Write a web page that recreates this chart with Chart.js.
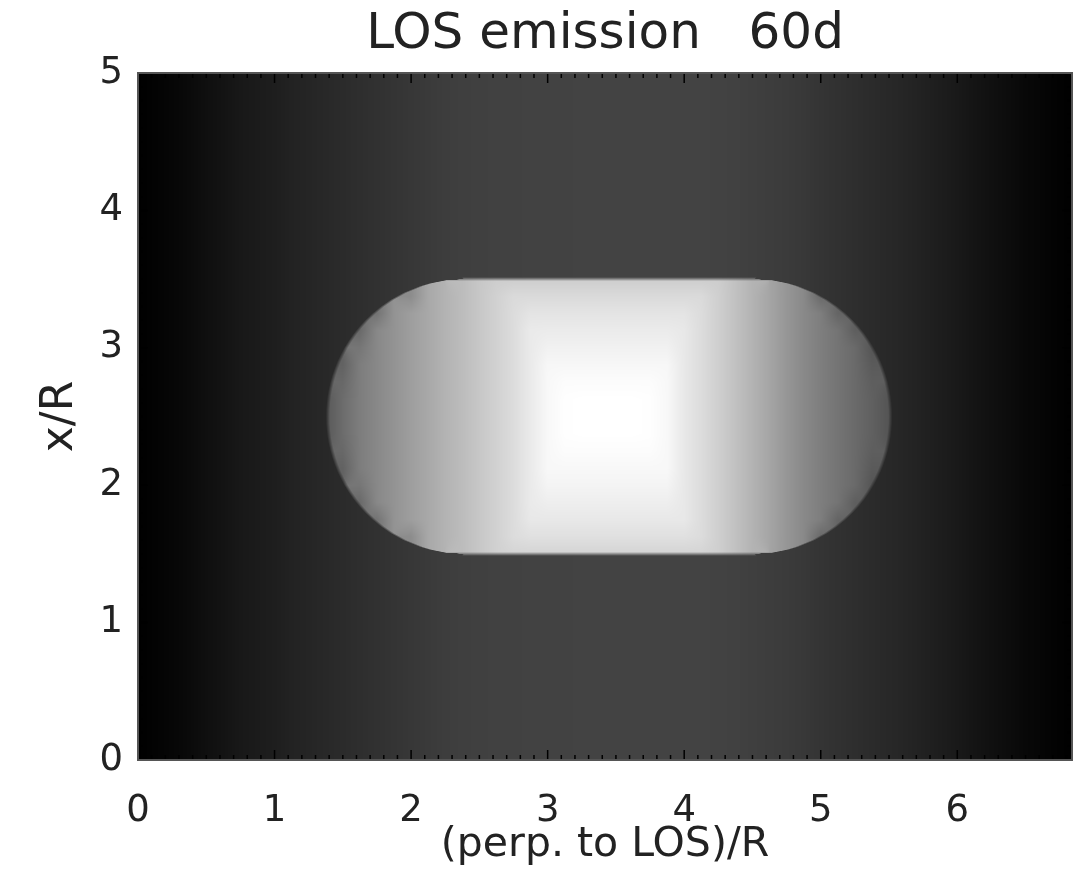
<!DOCTYPE html>
<html>
<head>
<meta charset="utf-8">
<script src="https://cdn.jsdelivr.net/npm/chart.js@4.4.0/dist/chart.umd.min.js"></script>
<style>
  html, body { margin: 0; padding: 0; background: #fff; }
</style>
</head>
<body>
<canvas id="losChart" width="1078" height="889"></canvas>
<script>
// background emission (grey level 0-255), sampled along (perp. to LOS)/R
const bgX = [0, 0.125, 0.25, 0.375, 0.5, 0.625, 0.75, 0.875, 1, 1.125, 1.25, 1.375, 1.5, 1.625,
  1.75, 1.875, 2, 2.125, 2.25, 2.375, 2.5, 2.625, 2.75, 2.875, 3, 3.125, 3.25, 3.375, 3.5,
  3.625, 3.75, 3.875, 4, 4.125, 4.25, 4.375, 4.5, 4.625, 4.75, 4.875, 5, 5.125, 5.25, 5.375,
  5.5, 5.625, 5.75, 5.875, 6, 6.125, 6.25, 6.375, 6.5, 6.625, 6.75, 6.875];
const bgLevel = [0, 3, 6, 10, 15, 19, 24, 27, 30, 34, 37, 40, 43, 46,
  49, 52, 55, 58, 61, 63, 64, 65, 65, 66, 66, 66, 67, 67, 67,
  67, 67, 67, 67, 67, 66, 65, 63, 61, 59, 56, 52, 49, 46, 43,
  40, 37, 33, 29, 25, 20, 16, 12, 8, 5, 2, 0];

// outline of the bright capsule: left / right edge (x/R) for each height y/R
const edgeY = [3.5, 3.49, 3.47, 3.45, 3.4, 3.35, 3.3, 3.25, 3.2, 3.15, 3.1, 3.05, 3, 2.95, 2.9,
  2.85, 2.8, 2.75, 2.7, 2.65, 2.6, 2.55, 2.5, 2.45, 2.4, 2.35, 2.3, 2.25, 2.2, 2.15, 2.1, 2.05,
  2, 1.95, 1.9, 1.85, 1.8, 1.75, 1.7, 1.65, 1.6, 1.55, 1.53, 1.51, 1.5];
const edgeLeft = [2.39, 2.249, 2.147, 2.078, 1.954, 1.863, 1.79, 1.729, 1.676, 1.63, 1.59, 1.555,
  1.524, 1.497, 1.473, 1.453, 1.436, 1.422, 1.41, 1.401, 1.395, 1.391, 1.39, 1.391, 1.395, 1.401,
  1.41, 1.422, 1.436, 1.453, 1.473, 1.497, 1.524, 1.555, 1.59, 1.63, 1.676, 1.729, 1.79, 1.863,
  1.954, 2.078, 2.147, 2.249, 2.39];
const edgeRight = [4.51, 4.651, 4.753, 4.822, 4.946, 5.037, 5.11, 5.171, 5.224, 5.27, 5.31, 5.345,
  5.376, 5.403, 5.427, 5.447, 5.464, 5.478, 5.49, 5.499, 5.505, 5.509, 5.51, 5.509, 5.505, 5.499,
  5.49, 5.478, 5.464, 5.447, 5.427, 5.403, 5.376, 5.345, 5.31, 5.27, 5.224, 5.171, 5.11, 5.037,
  4.946, 4.822, 4.753, 4.651, 4.51];

// emission inside the capsule (grey level), null = outside the capsule
const capX = [1.25, 1.375, 1.5, 1.625, 1.75, 1.875, 2, 2.125, 2.25, 2.375, 2.5, 2.625, 2.75,
  2.875, 3, 3.125, 3.25, 3.375, 3.5, 3.625, 3.75, 3.875, 4, 4.125, 4.25, 4.375, 4.5, 4.625,
  4.75, 4.875, 5, 5.125, 5.25, 5.375, 5.5, 5.625];
const capY = [3.5, 3.375, 3.25, 3.125, 3, 2.875, 2.75, 2.625, 2.5, 2.375, 2.25, 2.125, 2,
  1.875, 1.75, 1.625, 1.5];
const _ = null;
const capLevel = [
  [_,_,_,_,_,_,_,_,_,188,199,205,205,205,205,205,205,205,205,205,205,205,205,205,205,193,179,_,_,_,_,_,_,_,_,_],
  [_,_,_,_,_,_,140,168,179,188,199,209,218,218,218,218,218,218,218,218,218,218,218,218,207,193,179,165,150,137,105,_,_,_,_,_],
  [_,_,_,_,115,147,158,168,179,188,199,209,220,228,228,228,228,228,228,228,228,228,228,220,207,193,179,165,150,137,126,100,_,_,_,_],
  [_,_,_,105,136,147,158,168,179,188,199,209,220,234,235,235,235,235,235,235,235,235,232,220,207,193,179,165,150,137,126,116,94,_,_,_],
  [_,_,_,118,136,147,158,168,179,188,199,209,220,234,241,241,241,241,241,241,241,241,232,220,207,193,179,165,150,137,126,116,106,85,_,_],
  [_,_,98,125,136,147,158,168,179,188,199,209,220,234,247,247,247,247,247,247,247,247,232,220,207,193,179,165,150,137,126,116,106,90,_,_],
  [_,_,104,125,136,147,158,168,179,188,199,209,220,234,248,252,252,252,252,252,252,248,232,220,207,193,179,165,150,137,126,116,106,94,_,_],
  [_,88,108,125,136,147,158,168,179,188,199,209,220,234,248,254,255,255,255,255,254,248,232,220,207,193,179,165,150,137,126,116,106,96,84,_],
  [_,88,108,125,136,147,158,168,179,188,199,209,220,234,248,254,255,255,255,255,254,248,232,220,207,193,179,165,150,137,126,116,106,96,84,_],
  [_,88,108,125,136,147,158,168,179,188,199,209,220,234,248,254,255,255,255,255,254,248,232,220,207,193,179,165,150,137,126,116,106,96,84,_],
  [_,_,104,125,136,147,158,168,179,188,199,209,220,234,248,252,252,252,252,252,252,248,232,220,207,193,179,165,150,137,126,116,106,94,_,_],
  [_,_,98,125,136,147,158,168,179,188,199,209,220,234,248,248,248,248,248,248,248,248,232,220,207,193,179,165,150,137,126,116,106,90,_,_],
  [_,_,_,118,136,147,158,168,179,188,199,209,220,234,244,244,244,244,244,244,244,244,232,220,207,193,179,165,150,137,126,116,106,85,_,_],
  [_,_,_,105,136,147,158,168,179,188,199,209,220,234,238,238,238,238,238,238,238,238,232,220,207,193,179,165,150,137,126,116,94,_,_,_],
  [_,_,_,_,115,147,158,168,179,188,199,209,220,232,232,232,232,232,232,232,232,232,232,220,207,193,179,165,150,137,126,100,_,_,_,_],
  [_,_,_,_,_,_,140,168,179,188,199,209,220,224,224,224,224,224,224,224,224,224,224,220,207,193,179,165,150,137,105,_,_,_,_,_],
  [_,_,_,_,_,_,_,_,_,188,199,209,212,212,212,212,212,212,212,212,212,212,212,212,207,193,179,_,_,_,_,_,_,_,_,_]
];

const font = 'DejaVu Sans';
const ink = '#222';

// interval of a monotonic node list that holds v
function bracket(nodes, v) {
  for (let k = 0; k < nodes.length - 1; k++) {
    const n0 = nodes[k], n1 = nodes[k + 1];
    if ((v - n0) * (v - n1) <= 0) return { k: k, t: n1 === n0 ? 0 : (v - n0) / (n1 - n0) };
  }
  return null;
}

// same, but a value just past either end sticks to that end
function bracketClamped(nodes, v) {
  const b = bracket(nodes, v);
  if (b) return b;
  const first = nodes[0], last = nodes[nodes.length - 1];
  return Math.abs(v - first) < Math.abs(v - last) ? { k: 0, t: 0 } : { k: nodes.length - 2, t: 1 };
}

function profileAt(xs, vs, v) {
  const b = bracket(xs, v);
  if (!b) return v < xs[0] ? vs[0] : vs[vs.length - 1];
  return vs[b.k] + b.t * (vs[b.k + 1] - vs[b.k]);
}

// bilinear blend of the capsule grid, skipping nodes outside the capsule
function capsuleAt(rb, cb) {
  const r0 = capLevel[rb.k], r1 = capLevel[rb.k + 1];
  const nodes = [
    [r0[cb.k], (1 - rb.t) * (1 - cb.t)], [r0[cb.k + 1], (1 - rb.t) * cb.t],
    [r1[cb.k], rb.t * (1 - cb.t)], [r1[cb.k + 1], rb.t * cb.t]
  ];
  let sum = 0, wsum = 0;
  nodes.forEach(function(n) {
    if (n[0] !== null) { sum += n[0] * (n[1] + 1e-3); wsum += n[1] + 1e-3; }
  });
  return wsum > 0 ? sum / wsum : null;
}

// paints the emission map into the chart area, pixel by pixel, via the scales
const losImage = {
  id: 'losImage',
  beforeDatasetsDraw(chart) {
    const { ctx, chartArea: a, scales } = chart;
    const sx = scales.x, sy = scales.y;
    const w = Math.round(a.width), h = Math.round(a.height);
    const pxX = Math.abs(sx.getPixelForValue(1) - sx.getPixelForValue(0));
    const pxY = Math.abs(sy.getPixelForValue(1) - sy.getPixelForValue(0));
    const soft = 4;
    const off = document.createElement('canvas');
    off.width = w;
    off.height = h;
    const octx = off.getContext('2d');
    const img = octx.createImageData(w, h);
    const colX = [], colBg = [], colCap = [];
    for (let i = 0; i < w; i++) {
      const xv = sx.getValueForPixel(a.left + i + 0.5);
      colX.push(xv);
      colBg.push(profileAt(bgX, bgLevel, xv));
      colCap.push(bracket(capX, xv));
    }
    const top = edgeY[0], bottom = edgeY[edgeY.length - 1];
    for (let j = 0; j < h; j++) {
      const yv = sy.getValueForPixel(a.top + j + 0.5);
      const vCover = Math.min(1, Math.min(top - yv, yv - bottom) * pxY / soft + 0.5);
      if (vCover <= 0) {
        for (let i = 0; i < w; i++) {
          const p = (j * w + i) * 4, c8 = Math.round(colBg[i]);
          img.data[p] = c8; img.data[p + 1] = c8; img.data[p + 2] = c8; img.data[p + 3] = 255;
        }
        continue;
      }
      const rb = bracketClamped(capY, yv);
      const eb = bracketClamped(edgeY, yv);
      const left = edgeLeft[eb.k] + eb.t * (edgeLeft[eb.k + 1] - edgeLeft[eb.k]);
      const right = edgeRight[eb.k] + eb.t * (edgeRight[eb.k + 1] - edgeRight[eb.k]);
      for (let i = 0; i < w; i++) {
        let g = colBg[i];
        const cb = colCap[i];
        if (cb) {
          const xv = colX[i];
          const hCover = Math.min(1, Math.min(xv - left, right - xv) * pxX / soft + 0.5);
          const cover = Math.min(hCover, vCover);
          if (cover > 0) {
            const c = capsuleAt(rb, cb);
            if (c !== null) g = g + cover * (c - g);
          }
        }
        const p = (j * w + i) * 4;
        const c8 = Math.round(g);
        img.data[p] = c8;
        img.data[p + 1] = c8;
        img.data[p + 2] = c8;
        img.data[p + 3] = 255;
      }
    }
    octx.putImageData(img, 0, 0);
    ctx.drawImage(off, a.left, a.top, a.width, a.height);
  }
};

// inward tick marks on all four sides plus the frame
const insideTicks = {
  id: 'insideTicks',
  afterDraw(chart) {
    const { ctx, chartArea: a, scales: { x, y } } = chart;
    ctx.save();
    ctx.strokeStyle = '#000';
    ctx.lineWidth = 1.5;
    ctx.beginPath();
    for (let k = 0; k <= Math.floor(x.max * 10 + 1e-6); k++) {
      const px = x.getPixelForValue(k / 10);
      const len = k % 10 === 0 ? 10 : 5;
      ctx.moveTo(px, a.bottom); ctx.lineTo(px, a.bottom - len);
      ctx.moveTo(px, a.top); ctx.lineTo(px, a.top + len);
    }
    for (let k = 0; k <= Math.floor(y.max * 10 + 1e-6); k++) {
      const py = y.getPixelForValue(k / 10);
      const len = k % 10 === 0 ? 10 : 5;
      ctx.moveTo(a.left, py); ctx.lineTo(a.left + len, py);
      ctx.moveTo(a.right, py); ctx.lineTo(a.right - len, py);
    }
    ctx.stroke();
    ctx.strokeStyle = '#555';
    ctx.lineWidth = 2;
    ctx.strokeRect(a.left, a.top, a.width, a.height);
    ctx.restore();
  }
};

new Chart(document.getElementById('losChart'), {
  type: 'scatter',
  data: { datasets: [] },
  options: {
    responsive: false,
    animation: false,
    devicePixelRatio: 1,
    layout: { padding: { left: 0, right: 6, top: 0, bottom: 0 } },
    plugins: {
      legend: { display: false },
      tooltip: { enabled: false },
      title: {
        display: true,
        fullSize: false,
        text: 'LOS emission   60d',
        color: ink,
        font: { family: font, size: 50, weight: 'normal' },
        padding: { top: 5, bottom: 8 }
      }
    },
    scales: {
      x: {
        type: 'linear',
        min: 0,
        max: 6.84,
        grid: { display: false, drawTicks: false },
        border: { display: false },
        ticks: {
          stepSize: 1,
          includeBounds: false,
          maxRotation: 0,
          color: ink,
          padding: 29,
          font: { family: font, size: 37 }
        },
        title: {
          display: true,
          text: '(perp. to LOS)/R',
          color: ink,
          font: { family: font, size: 41 },
          padding: { top: 0, bottom: 19 }
        },
        afterFit(s) { s.height = 129; }
      },
      y: {
        type: 'linear',
        min: 0,
        max: 5,
        grid: { display: false, drawTicks: false },
        border: { display: false },
        ticks: {
          stepSize: 1,
          includeBounds: false,
          color: ink,
          padding: 15,
          font: { family: font, size: 37 }
        },
        title: {
          display: true,
          text: 'x/R',
          color: ink,
          font: { family: font, size: 44 },
          padding: { top: 34, bottom: 0 }
        },
        afterFit(s) { s.width = 138; }
      }
    }
  },
  plugins: [losImage, insideTicks]
});
</script>
</body>
</html>
